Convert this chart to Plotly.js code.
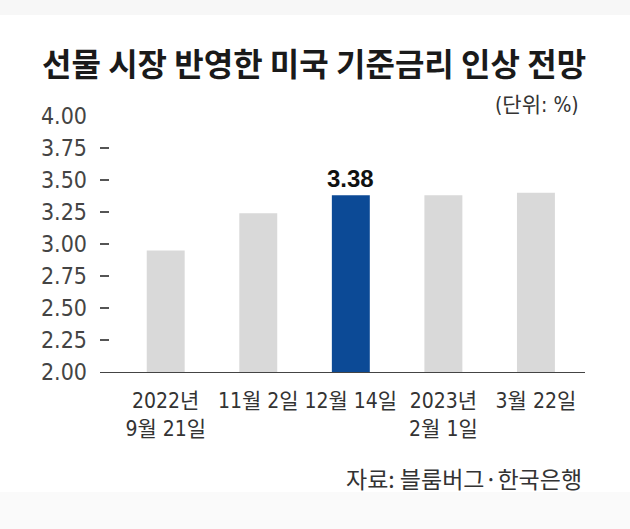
<!DOCTYPE html>
<html>
<head>
<meta charset="utf-8">
<script src="https://cdn.plot.ly/plotly-3.0.1.min.js"></script>
<style>html,body{margin:0;padding:0;background:#fff;}#chart{width:630px;height:529px;}</style>
</head>
<body>
<div id="chart"></div>
<script>
const categories = ["2022년<br>9월 21일", "11월 2일", "12월 14일", "2023년<br>2월 1일", "3월 22일"];
const values = [2.95, 3.24, 3.38, 3.38, 3.40];
const barColors = ["#d9d9d9", "#d9d9d9", "#0c4a96", "#d9d9d9", "#d9d9d9"];
const highlightIndex = 2;
const highlightLabel = "3.38";
const yTickVals = [2.00, 2.25, 2.50, 2.75, 3.00, 3.25, 3.50, 3.75, 4.00];
const yTickText = ["2.00", "2.25", "2.50", "2.75", "3.00", "3.25", "3.50", "3.75", "4.00"];
const titleText = "선물 시장 반영한 미국 기준금리 인상 전망";
const unitText = "(단위: %)";
const sourceText = "자료: 블룸버그·한국은행";

const numFont = "'Liberation Sans Narrow', 'DejaVu Sans Condensed', 'Liberation Sans', 'Noto Sans CJK KR', sans-serif";
const krFont = "'Noto Sans CJK KR', sans-serif";

const trace = {
  type: "bar",
  x: categories,
  y: values.map(v => v - 2),
  base: 2,
  marker: {color: barColors, line: {width: 0}},
  width: 0.41,
  hoverinfo: "skip"
};

const layout = {
  width: 630, height: 529,
  margin: {l: 100, r: 45, t: 116, b: 157},
  paper_bgcolor: "#ffffff",
  plot_bgcolor: "rgba(0,0,0,0)",
  showlegend: false,
  xaxis: {
    type: "category",
    range: [-0.71, 4.53],
    showgrid: false, zeroline: false,
    showline: true, linecolor: "#444", linewidth: 1.2,
    ticks: "",
    tickfont: {family: numFont, size: 21, color: "#333"},
    ticklabelstandoff: 10,
    fixedrange: true
  },
  yaxis: {
    range: [2, 4],
    showgrid: false, zeroline: false, showline: false,
    tickvals: yTickVals, ticktext: yTickText,
    ticks: "inside", ticklen: 9, tickwidth: 1.2, tickcolor: "#555",
    tickfont: {family: numFont, size: 23, color: "#444"},
    ticklabelstandoff: 12,
    fixedrange: true
  },
  shapes: [
    {type: "rect", xref: "paper", yref: "paper", x0: -0.3, x1: 1.2, y0: 372/256 - 15/256, y1: 1.6,
     fillcolor: "#f7f7f7", line: {width: 0}, layer: "below"},
    {type: "rect", xref: "paper", yref: "paper", x0: -0.3, x1: 1.2, y0: -0.7, y1: (372-492)/256,
     fillcolor: "#fafafa", line: {width: 0}, layer: "below"}
  ],
  annotations: [
    {text: "<b>" + titleText + "</b>", xref: "paper", yref: "paper",
     x: (314-100)/485, y: (372-62)/256, xanchor: "center", yanchor: "middle", showarrow: false,
     font: {family: krFont, size: 32, color: "#1a1a1a"}},
    {text: unitText, xref: "paper", yref: "paper",
     x: (581-100)/485, y: (372-105)/256, xanchor: "right", yanchor: "middle", showarrow: false,
     font: {family: numFont, size: 21, color: "#333"}},
    {text: sourceText, xref: "paper", yref: "paper",
     x: (584-100)/485, y: (372-478)/256, xanchor: "right", yanchor: "middle", showarrow: false,
     font: {family: krFont, size: 23, color: "#333"}},
    {text: "<b>" + highlightLabel + "</b>", x: categories[highlightIndex], y: values[highlightIndex],
     xref: "x", yref: "y", xanchor: "center", yanchor: "bottom", yshift: 1, showarrow: false,
     font: {family: "'Liberation Sans', Arial, sans-serif", size: 24, color: "#111"}}
  ]
};

Plotly.newPlot("chart", [trace], layout, {displayModeBar: false, staticPlot: true});
</script>
</body>
</html>
